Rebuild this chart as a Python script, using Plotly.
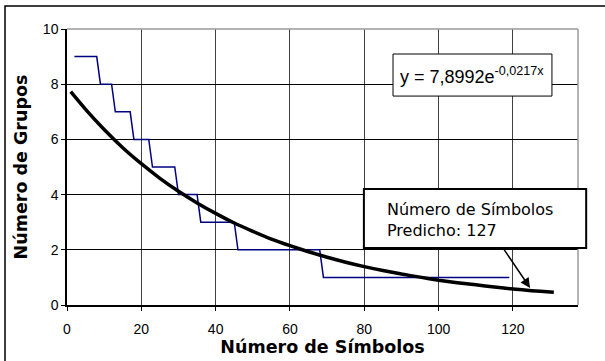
import plotly.graph_objects as go

# Observed step series (Número de Grupos)
obs_x = [2, 8, 9, 12, 13, 17, 18, 22, 23, 29, 30, 35, 36, 45, 46, 68, 69, 119]
obs_y = [9, 9, 8, 8, 7, 7, 6, 6, 5, 5, 4, 4, 3, 3, 2, 2, 1, 1]

# Fitted curve
fit_x = [1, 5, 10, 15, 20, 25, 30, 35, 40, 45, 50, 55, 60, 65, 70, 75, 80, 85,
         90, 95, 100, 105, 110, 115, 120, 125, 130, 131]
fit_y = [7.73, 7.09, 6.36, 5.70, 5.12, 4.59, 4.12, 3.70, 3.32, 2.97, 2.67, 2.39,
         2.15, 1.93, 1.73, 1.55, 1.39, 1.25, 1.12, 1.01, 0.90, 0.81, 0.73, 0.65,
         0.58, 0.52, 0.47, 0.46]

x_ticks = [0, 20, 40, 60, 80, 100, 120]
y_ticks = [0, 2, 4, 6, 8, 10]

fig = go.Figure()
fig.add_trace(go.Scatter(x=obs_x, y=obs_y, mode="lines",
                         line=dict(color="#000080", width=1.5), showlegend=False))
fig.add_trace(go.Scatter(x=fit_x, y=fit_y, mode="lines",
                         line=dict(color="black", width=3.5, shape="spline", smoothing=0.6),
                         showlegend=False))

ax_font = dict(family="Liberation Sans, Arial", size=14, color="black")
title_font = dict(family="DejaVu Sans", size=17.5, color="black", weight="bold")

fig.update_layout(
    width=605, height=361,
    margin=dict(l=67, r=27, t=29, b=56),
    paper_bgcolor="white", plot_bgcolor="white",
    xaxis=dict(range=[0, 137.5], tickvals=x_ticks, ticktext=[str(v) for v in x_ticks],
               showgrid=True, gridcolor="#404040", gridwidth=1,
               showline=True, linecolor="black", linewidth=1.5,
               ticks="outside", ticklen=4, tickcolor="black",
               tickfont=ax_font, zeroline=False, ticklabelstandoff=6, automargin=False,
               title=dict(text="Número de Símbolos", font=title_font, standoff=1)),
    yaxis=dict(range=[0, 10], tickvals=y_ticks, ticktext=[str(v) for v in y_ticks],
               showgrid=True, gridcolor="#000000", gridwidth=1,
               showline=True, linecolor="black", linewidth=1.5,
               ticks="outside", ticklen=4, tickcolor="black",
               tickfont=ax_font, zeroline=False, automargin=False,
               title=dict(text="Número de Grupos", font=title_font, standoff=11)),
    shapes=[
        # outer chart frame (cropped)
        dict(type="rect", xref="paper", yref="paper", x0=-0.1213, x1=1.3, y0=-0.5, y1=1.0833,
             line=dict(color="black", width=1.5), layer="below"),
        # plot area gray top/right border
        dict(type="line", xref="paper", yref="paper", x0=0, x1=1, y0=1, y1=1,
             line=dict(color="#9a9a9a", width=1.5), layer="above"),
        dict(type="line", xref="paper", yref="paper", x0=1, x1=1, y0=0, y1=1,
             line=dict(color="#9a9a9a", width=1.5), layer="above"),
        # equation box
        dict(type="rect", xref="paper", yref="paper", x0=0.638, x1=0.949, y0=0.757, y1=0.9094,
             line=dict(color="black", width=1), fillcolor="white", layer="above"),
        # prediction box
        dict(type="rect", xref="paper", yref="paper", x0=0.581, x1=1.016, y0=0.2065, y1=0.4203,
             line=dict(color="black", width=2), fillcolor="white", layer="above"),
    ],
    annotations=[
        dict(xref="paper", yref="paper", x=0.6477, y=0.8333, xanchor="left", yanchor="middle",
             text="y = 7,8992e<sup>-0,0217x</sup>", showarrow=False,
             font=dict(family="Liberation Sans, Arial", size=18, color="black")),
        dict(xref="paper", yref="paper", x=0.6223, y=0.308, xanchor="left", yanchor="middle",
             text="Número de Símbolos<br>Predicho: 127", showarrow=False, align="left",
             font=dict(family="DejaVu Sans", size=16, color="black")),
        dict(xref="x", yref="y", x=124.6, y=0.62, axref="x", ayref="y", ax=117.3, ay=2.07,
             text="", showarrow=True, arrowhead=2, arrowsize=1.3, arrowwidth=1.5,
             arrowcolor="black", standoff=0),
    ],
)

fig.write_html("out.html", config={"displayModeBar": False},
               post_script="document.body.style.margin='0';")
